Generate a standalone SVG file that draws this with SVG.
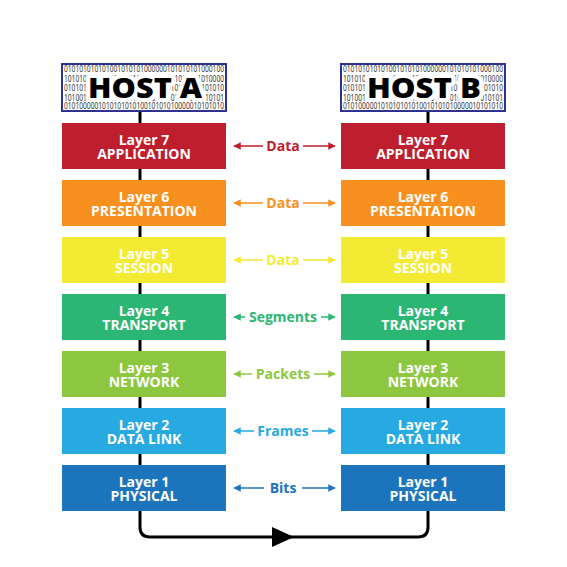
<svg xmlns="http://www.w3.org/2000/svg" width="567" height="567" viewBox="0 0 567 567">
<style>
.bx{stroke:none}
.t{font-family:"Open Sans","Liberation Sans",sans-serif;font-weight:700;font-size:14px;fill:#fff;text-anchor:middle}
.lb{font-family:"Open Sans","Liberation Sans",sans-serif;font-weight:700;font-size:14px;text-anchor:middle}
.bin{font-family:"Open Sans","Liberation Sans",sans-serif;font-size:9.5px;fill:#1a1a1a}
.host{font-family:"Open Sans","Liberation Sans",sans-serif;font-weight:800;font-size:28px;fill:#000;text-anchor:middle;stroke:#fff;stroke-width:8;stroke-linejoin:round;paint-order:stroke}
.hb{fill:#fff;stroke:#2e3192;stroke-width:2}
.conn{fill:none;stroke:#000;stroke-width:3}
.al{stroke-width:1.5;fill:none}
</style>
<defs>
<marker id="m7" viewBox="0 0 10 10" refX="9" refY="5" markerWidth="5" markerHeight="5" orient="auto-start-reverse" markerUnits="strokeWidth"><path d="M0,0 L10,5 L0,10 z" fill="#be1e2d"/></marker>
<marker id="m6" viewBox="0 0 10 10" refX="9" refY="5" markerWidth="5" markerHeight="5" orient="auto-start-reverse" markerUnits="strokeWidth"><path d="M0,0 L10,5 L0,10 z" fill="#f7901e"/></marker>
<marker id="m5" viewBox="0 0 10 10" refX="9" refY="5" markerWidth="5" markerHeight="5" orient="auto-start-reverse" markerUnits="strokeWidth"><path d="M0,0 L10,5 L0,10 z" fill="#f3ea33"/></marker>
<marker id="m4" viewBox="0 0 10 10" refX="9" refY="5" markerWidth="5" markerHeight="5" orient="auto-start-reverse" markerUnits="strokeWidth"><path d="M0,0 L10,5 L0,10 z" fill="#2bb673"/></marker>
<marker id="m3" viewBox="0 0 10 10" refX="9" refY="5" markerWidth="5" markerHeight="5" orient="auto-start-reverse" markerUnits="strokeWidth"><path d="M0,0 L10,5 L0,10 z" fill="#8dc63f"/></marker>
<marker id="m2" viewBox="0 0 10 10" refX="9" refY="5" markerWidth="5" markerHeight="5" orient="auto-start-reverse" markerUnits="strokeWidth"><path d="M0,0 L10,5 L0,10 z" fill="#27aae1"/></marker>
<marker id="m1" viewBox="0 0 10 10" refX="9" refY="5" markerWidth="5" markerHeight="5" orient="auto-start-reverse" markerUnits="strokeWidth"><path d="M0,0 L10,5 L0,10 z" fill="#1c75bc"/></marker>
</defs>
<rect width="567" height="567" fill="#fff"/>

<g id="connectors">
<path class="conn" d="M140,111 V527 Q140,537 150,537 H418 Q428,537 428,527 V111"/>
<polygon points="272,527 294,537 272,547" fill="#000"/>
</g>

<g id="hostA">
<rect class="hb" x="62" y="64" width="164" height="47"/>
<text class="bin" x="64" y="72" textLength="160" lengthAdjust="spacingAndGlyphs">010101010101001010101000000101010101000100</text>
<text class="bin" x="64" y="81.5" textLength="160" lengthAdjust="spacingAndGlyphs">101010101001010010101010101001010101010000</text>
<text class="bin" x="64" y="91" textLength="160" lengthAdjust="spacingAndGlyphs">010101010010101001010101001010101000101010</text>
<text class="bin" x="64" y="100.5" textLength="160" lengthAdjust="spacingAndGlyphs">101001010101010100101010100101001001010101</text>
<text class="bin" x="64" y="109" textLength="160" lengthAdjust="spacingAndGlyphs">010100000101010101010010101010000010101010</text>
<text class="host" x="145" y="98" textLength="114" lengthAdjust="spacingAndGlyphs">HOST A</text>
</g>
<g id="hostB">
<rect class="hb" x="341" y="64" width="164" height="47"/>
<text class="bin" x="343" y="72" textLength="160" lengthAdjust="spacingAndGlyphs">010101010101001010101000000101010101000100</text>
<text class="bin" x="343" y="81.5" textLength="160" lengthAdjust="spacingAndGlyphs">101010101001010010101010101001010101010000</text>
<text class="bin" x="343" y="91" textLength="160" lengthAdjust="spacingAndGlyphs">010101010010101001010101001010101000101010</text>
<text class="bin" x="343" y="100.5" textLength="160" lengthAdjust="spacingAndGlyphs">101001010101010100101010100101001001010101</text>
<text class="bin" x="343" y="109" textLength="160" lengthAdjust="spacingAndGlyphs">010100000101010101010010101010000010101010</text>
<text class="host" x="424" y="98" textLength="114" lengthAdjust="spacingAndGlyphs">HOST B</text>
</g>

<g id="a7"><rect class="bx" x="62" y="123" width="164" height="46" fill="#be1e2d"/><text class="t" x="144" y="145">Layer 7</text><text class="t" x="144" y="159">APPLICATION</text></g>
<g id="a6"><rect class="bx" x="62" y="180" width="164" height="46" fill="#f7901e"/><text class="t" x="144" y="202">Layer 6</text><text class="t" x="144" y="216">PRESENTATION</text></g>
<g id="a5"><rect class="bx" x="62" y="237" width="164" height="46" fill="#f3ea33"/><text class="t" x="144" y="259">Layer 5</text><text class="t" x="144" y="273">SESSION</text></g>
<g id="a4"><rect class="bx" x="62" y="294" width="164" height="46" fill="#2bb673"/><text class="t" x="144" y="316">Layer 4</text><text class="t" x="144" y="330">TRANSPORT</text></g>
<g id="a3"><rect class="bx" x="62" y="351" width="164" height="46" fill="#8dc63f"/><text class="t" x="144" y="373">Layer 3</text><text class="t" x="144" y="387">NETWORK</text></g>
<g id="a2"><rect class="bx" x="62" y="408" width="164" height="46" fill="#27aae1"/><text class="t" x="144" y="430">Layer 2</text><text class="t" x="144" y="444">DATA LINK</text></g>
<g id="a1"><rect class="bx" x="62" y="465" width="164" height="46" fill="#1c75bc"/><text class="t" x="144" y="487">Layer 1</text><text class="t" x="144" y="501">PHYSICAL</text></g>

<g id="b7"><rect class="bx" x="341" y="123" width="164" height="46" fill="#be1e2d"/><text class="t" x="423" y="145">Layer 7</text><text class="t" x="423" y="159">APPLICATION</text></g>
<g id="b6"><rect class="bx" x="341" y="180" width="164" height="46" fill="#f7901e"/><text class="t" x="423" y="202">Layer 6</text><text class="t" x="423" y="216">PRESENTATION</text></g>
<g id="b5"><rect class="bx" x="341" y="237" width="164" height="46" fill="#f3ea33"/><text class="t" x="423" y="259">Layer 5</text><text class="t" x="423" y="273">SESSION</text></g>
<g id="b4"><rect class="bx" x="341" y="294" width="164" height="46" fill="#2bb673"/><text class="t" x="423" y="316">Layer 4</text><text class="t" x="423" y="330">TRANSPORT</text></g>
<g id="b3"><rect class="bx" x="341" y="351" width="164" height="46" fill="#8dc63f"/><text class="t" x="423" y="373">Layer 3</text><text class="t" x="423" y="387">NETWORK</text></g>
<g id="b2"><rect class="bx" x="341" y="408" width="164" height="46" fill="#27aae1"/><text class="t" x="423" y="430">Layer 2</text><text class="t" x="423" y="444">DATA LINK</text></g>
<g id="b1"><rect class="bx" x="341" y="465" width="164" height="46" fill="#1c75bc"/><text class="t" x="423" y="487">Layer 1</text><text class="t" x="423" y="501">PHYSICAL</text></g>

<g id="peer-links">
<g stroke="#be1e2d" class="al"><line x1="263" y1="146" x2="234" y2="146" marker-end="url(#m7)"/><line x1="303" y1="146" x2="335" y2="146" marker-end="url(#m7)"/></g>
<text class="lb" x="283" y="151" fill="#be1e2d">Data</text>
<g stroke="#f7901e" class="al"><line x1="263" y1="203" x2="234" y2="203" marker-end="url(#m6)"/><line x1="303" y1="203" x2="335" y2="203" marker-end="url(#m6)"/></g>
<text class="lb" x="283" y="208" fill="#f7901e">Data</text>
<g stroke="#f3ea33" class="al"><line x1="263" y1="260" x2="234" y2="260" marker-end="url(#m5)"/><line x1="303" y1="260" x2="335" y2="260" marker-end="url(#m5)"/></g>
<text class="lb" x="283" y="265" fill="#f3ea33">Data</text>
<g stroke="#2bb673" class="al"><line x1="245" y1="317" x2="234" y2="317" marker-end="url(#m4)"/><line x1="321" y1="317" x2="335" y2="317" marker-end="url(#m4)"/></g>
<text class="lb" x="283" y="322" fill="#2bb673">Segments</text>
<g stroke="#8dc63f" class="al"><line x1="252" y1="374" x2="234" y2="374" marker-end="url(#m3)"/><line x1="314" y1="374" x2="335" y2="374" marker-end="url(#m3)"/></g>
<text class="lb" x="283" y="379" fill="#8dc63f">Packets</text>
<g stroke="#27aae1" class="al"><line x1="254" y1="431" x2="234" y2="431" marker-end="url(#m2)"/><line x1="312" y1="431" x2="335" y2="431" marker-end="url(#m2)"/></g>
<text class="lb" x="283" y="436" fill="#27aae1">Frames</text>
<g stroke="#1c75bc" class="al"><line x1="264" y1="488" x2="234" y2="488" marker-end="url(#m1)"/><line x1="302" y1="488" x2="335" y2="488" marker-end="url(#m1)"/></g>
<text class="lb" x="283" y="493" fill="#1c75bc">Bits</text>
</g>
</svg>
